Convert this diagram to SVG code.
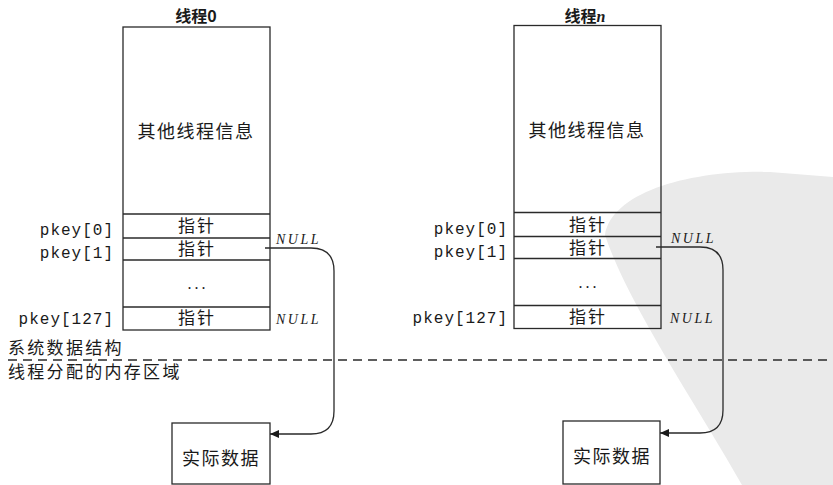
<svg xmlns="http://www.w3.org/2000/svg" width="833" height="485" viewBox="0 0 833 485">
<style>
.box{fill:none;stroke:#2a2a2a;stroke-width:1.3}
.ln{fill:none;stroke:#2a2a2a;stroke-width:1.3}
.cjk{font-family:"Noto Sans CJK SC","Noto Sans",sans-serif;fill:#1a1a1a}
.ttl{font-size:16px;font-weight:bold;text-anchor:middle}
.big{font-size:18px;letter-spacing:1.5px}
.lbl{font-size:17px;letter-spacing:2.3px}
.ptr{font-size:17px;letter-spacing:2px;text-anchor:middle}
.mono{font-family:"Liberation Mono","DejaVu Sans Mono",monospace;font-size:16px;letter-spacing:1px;text-anchor:end;fill:#1a1a1a}
.null{font-family:"Liberation Serif","DejaVu Serif",serif;font-style:italic;font-size:14px;letter-spacing:2.5px;fill:#1a1a1a}
.dots{font-family:"Liberation Serif",serif;font-size:16px;letter-spacing:3px;text-anchor:middle;fill:#1a1a1a}
.conn{fill:none;stroke:#2a2a2a;stroke-width:1.3}
</style>
<defs>
<marker id="arr" markerUnits="userSpaceOnUse" markerWidth="10" markerHeight="8" refX="9" refY="4" orient="auto">
<path d="M0,0 L9,4 L0,8 Z" fill="#1a1a1a"/>
</marker>
</defs>
<rect width="833" height="485" fill="#fff"/>
<path d="M 605 235 C 612 192 690 170 770 172 L 833 177 L 833 485 L 742 485 C 700 410 628 305 605 235 Z" fill="#eaeaea"/>

<g id="thread0">
<text class="cjk ttl" x="196" y="22">线程0</text>
<rect class="box" x="123" y="27" width="147" height="303"/>
<line class="ln" x1="123" y1="214" x2="270" y2="214"/>
<line class="ln" x1="123" y1="238" x2="270" y2="238"/>
<line class="ln" x1="123" y1="260" x2="270" y2="260"/>
<line class="ln" x1="123" y1="307" x2="270" y2="307"/>
<text class="cjk big" x="196" y="138" text-anchor="middle">其他线程信息</text>
<text class="cjk ptr" x="197" y="232">指针</text>
<text class="cjk ptr" x="197" y="255">指针</text>
<text class="dots" x="198" y="289">...</text>
<text class="cjk ptr" x="197" y="324">指针</text>
<text class="mono" x="114" y="235">pkey[0]</text>
<text class="mono" x="114" y="258">pkey[1]</text>
<text class="mono" x="114" y="324">pkey[127]</text>
<text class="null" x="276" y="244">NULL</text>
<text class="null" x="276" y="324">NULL</text>
</g>

<g id="data0">
<rect class="box" x="172" y="423" width="98" height="61"/>
<text class="cjk big" x="221" y="465" text-anchor="middle">实际数据</text>
</g>

<g id="threadn" transform="translate(391,-1.5)">
<text class="cjk ttl" x="194" y="23.5">线程<tspan font-family="Liberation Serif,serif" font-style="italic">n</tspan></text>
<rect class="box" x="123" y="27" width="147" height="303"/>
<line class="ln" x1="123" y1="214" x2="270" y2="214"/>
<line class="ln" x1="123" y1="238" x2="270" y2="238"/>
<line class="ln" x1="123" y1="260" x2="270" y2="260"/>
<line class="ln" x1="123" y1="307" x2="270" y2="307"/>
<text class="cjk big" x="196" y="138" text-anchor="middle">其他线程信息</text>
<text class="cjk ptr" x="197" y="232">指针</text>
<text class="cjk ptr" x="197" y="255">指针</text>
<text class="dots" x="198" y="289">...</text>
<text class="cjk ptr" x="197" y="324">指针</text>
<text class="mono" x="117" y="235">pkey[0]</text>
<text class="mono" x="117" y="258">pkey[1]</text>
<text class="mono" x="117" y="324">pkey[127]</text>
<text class="null" x="280" y="244">NULL</text>
<text class="null" x="279" y="324">NULL</text>
</g>

<g id="datan">
<rect class="box" x="563" y="421" width="97" height="63"/>
<text class="cjk big" x="612" y="463" text-anchor="middle">实际数据</text>
</g>

<g id="boundary">
<line x1="8" y1="360" x2="833" y2="360" stroke="#2a2a2a" stroke-width="1.3" stroke-dasharray="9,6"/>
<text class="cjk lbl" x="8" y="354">系统数据结构</text>
<text class="cjk lbl" x="8" y="378">线程分配的内存区域</text>
</g>

<g id="connectors">
<path class="conn" d="M 265 248 H 311 Q 334 248 334 271 V 411 Q 334 434 311 434 H 270" marker-end="url(#arr)"/>
<path class="conn" d="M 656 247 H 700 Q 723 247 723 270 V 410 Q 723 433 700 433 H 660" marker-end="url(#arr)"/>
</g>
</svg>
